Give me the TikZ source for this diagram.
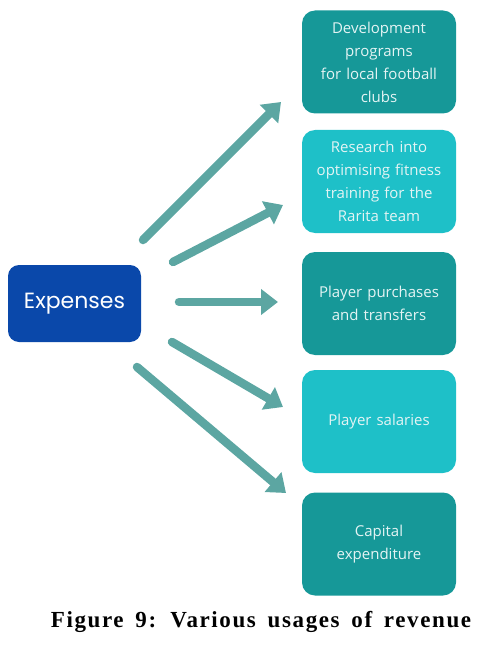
\documentclass[tikz,border=0pt]{standalone}
\usepackage{fontspec}
\setmainfont{Liberation Serif}
\newfontfamily\boxfont{Open Sans}
\newfontfamily\headfont{Poppins}
\newfontfamily\capfont[LetterSpace=7,WordSpace={1.6,1,1}]{Liberation Serif}
\usetikzlibrary{arrows.meta}
\definecolor{deepblue}{RGB}{10,72,170}
\definecolor{darkteal}{RGB}{22,152,152}
\definecolor{lightteal}{RGB}{30,192,200}
\definecolor{arrowteal}{RGB}{92,166,162}
\definecolor{boxtext}{RGB}{228,244,244}
\tikzset{
  item/.style={rounded corners=13pt, minimum width=154pt, minimum height=103pt,
    text width=152pt, align=center, inner sep=0pt, text=boxtext,
    font=\boxfont\fontsize{15}{23}\selectfont},
  darkitem/.style={item, fill=darkteal},
  lightitem/.style={item, fill=lightteal},
  rootbox/.style={rounded corners=11pt, fill=deepblue, minimum width=133pt,
    minimum height=77pt, inner sep=0pt, text=white,
    font=\headfont\fontsize{22}{26}\selectfont},
  link/.style={draw=arrowteal, line width=8.5pt, line cap=round,
    -{Triangle[length=17pt,width=25pt]}},
}
\begin{document}
\begin{tikzpicture}[x=1pt,y=-1pt]
\useasboundingbox (0,0) rectangle (484,647);
\node[rootbox] (exp) at (74.5,303.5) {Expenses};
\node[darkitem]  (b1) at (379,62)  {Development\\programs\\for local football\\clubs};
\node[lightitem] (b2) at (379,181.5) {Research into\\optimising fitness\\training for the\\Rarita team};
\node[darkitem]  (b3) at (379,303.5) {Player purchases\\and transfers};
\node[lightitem] (b4) at (379,421.5) {Player salaries};
\node[darkitem]  (b5) at (379,544) {Capital\\expenditure};
\coordinate (s1) at (143,240); \coordinate (e1) at (281,102);
\coordinate (s2) at (173,262); \coordinate (e2) at (283,205);
\coordinate (s3) at (179,302); \coordinate (e3) at (278,302);
\coordinate (s4) at (172,342); \coordinate (e4) at (283,407);
\coordinate (s5) at (137,367); \coordinate (e5) at (286,493);
\draw[link] (s1) -- (e1);
\draw[link] (s2) -- (e2);
\draw[link] (s3) -- (e3);
\draw[link] (s4) -- (e4);
\draw[link] (s5) -- (e5);
\node[font=\capfont\bfseries\fontsize{23}{26}\selectfont] (cap) at (261,622) {Figure 9: Various usages of revenue};
\end{tikzpicture}
\end{document}
